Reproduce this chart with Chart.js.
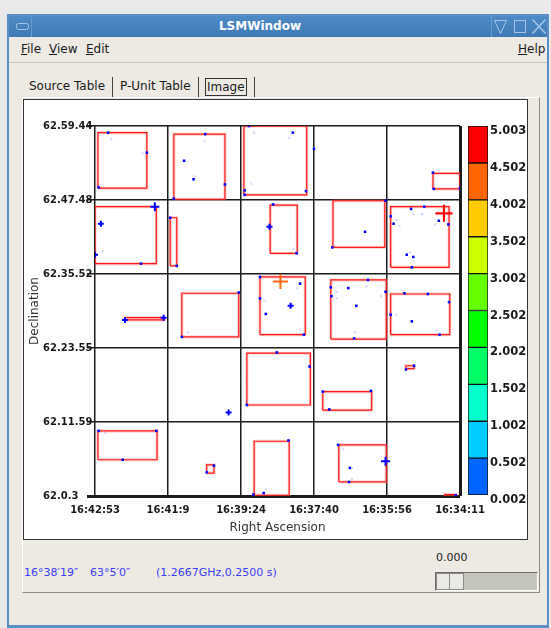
<!DOCTYPE html>
<html>
<head>
<meta charset="utf-8">
<title>LSMWindow</title>
<script src="https://cdn.jsdelivr.net/npm/chart.js@4.4.1/dist/chart.umd.min.js"></script>
<style>
  html, body { margin: 0; padding: 0; }
  body { width: 551px; height: 628px; background: #e9e9e9; position: relative; overflow: hidden;
         font-family: "DejaVu Sans", sans-serif; font-size: 12px; color: #1a1a1a; }
  .a { position: absolute; }
  #frame { left: 7px; top: 14px; width: 542px; height: 614px; background: #5a8fc6; }
  #body { left: 9px; top: 37px; width: 538px; height: 588px; background: #edeae4; }
  #titlebar { left: 9px; top: 16px; width: 538px; height: 21px; background: linear-gradient(#4e8ac5, #3f7ab5); }
  #title { left: 9px; top: 16px; width: 502px; line-height: 21px; text-align: center; color: #fff; font-weight: bold; font-size: 12px; }
  #menubar { left: 9px; top: 37px; width: 538px; height: 25px; border-bottom: 1px solid #c9c5bd; }
  .menu { top: 41px; line-height: 16px; font-size: 12px; }
  .tab { top: 78px; line-height: 17px; font-size: 12px; }
  .sep { width: 1px; background: #444; top: 77px; height: 20px; }
  #panel { left: 22px; top: 97px; width: 516px; height: 494px; border: 1px solid #8e8b85; border-top-color: #fff; border-left-color: #fff; }
  #plot { left: 23px; top: 99px; width: 503px; height: 439px; background: #fff; border: 1px solid #333; }
  .status { top: 566px; line-height: 14px; font-size: 11px; color: #3c3cff; }
  #trough { left: 435px; top: 572px; width: 101px; height: 17px; background: #c6c5bd; border: 1px solid #fff; border-top-color: #6b6b6b; border-left-color: #6b6b6b; }
  #thumb { left: 436px; top: 573px; width: 26px; height: 15px; background: #ebe9e3; border: 1px solid #8a8a8a; }
  #thumbline { left: 449px; top: 574px; width: 1px; height: 15px; background: #8a8a8a; }
</style>
</head>
<body>
<div class="a" id="frame"></div>
<div class="a" id="body"></div>
<div class="a" id="titlebar"></div>
<svg class="a" style="left:9px;top:16px" width="538" height="21">
  <rect x="7.5" y="7.5" width="12" height="6" rx="2" fill="none" stroke="#a4c6ea" stroke-width="1"/>
  <line x1="22.5" y1="0" x2="22.5" y2="21" stroke="#6a9bd0"/>
  <line x1="482.5" y1="0" x2="482.5" y2="21" stroke="#6a9bd0"/>
  <path d="M485.5 4.5 L497.5 4.5 L491.5 17.5 Z" fill="none" stroke="#a4c6ea"/>
  <rect x="505.5" y="4.5" width="11" height="12" fill="none" stroke="#a4c6ea"/>
  <path d="M523.5 3.5 L536.5 17.5 M536.5 3.5 L523.5 17.5" stroke="#a4c6ea" stroke-width="1.5"/>
</svg>
<div class="a" id="title">LSMWindow</div>
<div class="a" id="menubar"></div>
<div class="a menu" style="left:21px"><u>F</u>ile</div>
<div class="a menu" style="left:49px"><u>V</u>iew</div>
<div class="a menu" style="left:86px"><u>E</u>dit</div>
<div class="a menu" style="left:518px"><u>H</u>elp</div>

<div class="a" id="panel"></div>
<div class="a tab" style="left:29px">Source Table</div>
<div class="a sep" style="left:112px"></div>
<div class="a tab" style="left:120px">P-Unit Table</div>
<div class="a sep" style="left:198px"></div>
<div class="a tab" style="left:205px;top:78px;border:1px solid #333;line-height:16px;padding:0 1px">Image</div>
<div class="a sep" style="left:254px"></div>

<div class="a" id="plot"></div>
<canvas class="a" id="sky" width="503" height="439" style="left:24px;top:100px"></canvas>
<canvas class="a" id="bar" width="68" height="390" style="left:460px;top:116px"></canvas>

<div class="a status" style="left:24px">16°38′19″</div>
<div class="a status" style="left:90px">63°5′0″</div>
<div class="a status" style="left:156px">(1.2667GHz,0.2500 s)</div>
<div class="a" style="left:436px;top:551px;font-size:11px;line-height:14px;color:#222">0.000</div>
<div class="a" id="trough"></div>
<div class="a" id="thumb"></div>
<div class="a" id="thumbline"></div>

<script>
const raLabels = ['16:42:53', '16:41:9', '16:39:24', '16:37:40', '16:35:56', '16:34:11'];
const decLabels = ['62.0.3', '62.11.59', '62.23.55', '62.35.52', '62.47.48', '62.59.44'];

// P-unit boxes [x1, y1, x2, y2] in grid cells (x to the right, y up)
const boxes = [
    [0.04, 4.16, 0.71, 4.91], [1.08, 4.01, 1.78, 4.89], [2.04, 4.07, 2.90, 5.0], [4.63, 4.15, 5.0, 4.36],
    [0.0, 3.14, 0.84, 3.91], [1.03, 3.11, 1.12, 3.76], [2.40, 3.28, 2.77, 3.93], [3.26, 3.36, 3.97, 3.99],
    [4.05, 3.09, 4.85, 3.91],
    [0.41, 2.38, 0.95, 2.41], [1.19, 2.15, 1.97, 2.74], [2.26, 2.18, 2.88, 2.96], [3.23, 2.12, 3.99, 2.92],
    [4.05, 2.18, 4.86, 2.73],
    [2.08, 1.23, 2.95, 1.93], [3.12, 1.16, 3.79, 1.41], [4.26, 1.72, 4.37, 1.76],
    [0.04, 0.49, 0.85, 0.88], [1.53, 0.31, 1.63, 0.42], [2.18, 0.01, 2.66, 0.74], [3.34, 0.19, 3.99, 0.69],
    [4.79, 0.0, 4.95, 0.02]
];

const sources = [
    [0.18, 4.91], [0.71, 4.64], [0.05, 4.17], [1.51, 4.89], [1.22, 4.53], [1.35, 4.28], [1.78, 4.21],
    [1.08, 4.02], [2.11, 5.0], [2.71, 4.91], [2.05, 4.13], [2.05, 4.07], [2.89, 4.12], [3.0, 4.69],
    [4.63, 4.37], [4.64, 4.15], [5.0, 4.16],
    [0.63, 3.14], [1.03, 3.76], [1.12, 3.11], [2.44, 3.94], [2.76, 3.28], [3.98, 3.99], [3.70, 3.57],
    [3.25, 3.36], [4.33, 3.88], [4.51, 3.91], [4.05, 3.78], [4.09, 3.68], [4.71, 3.72], [4.84, 3.67],
    [4.27, 3.26], [4.36, 3.23], [4.34, 3.09],
    [1.97, 2.75], [1.19, 2.15], [2.26, 2.96], [2.81, 2.87], [2.26, 2.67], [2.34, 2.46], [2.86, 2.18],
    [3.74, 2.92], [3.47, 2.81], [3.23, 2.82], [3.24, 2.70], [3.98, 2.76], [3.58, 2.57], [3.55, 2.13],
    [4.24, 2.74], [4.56, 2.73], [4.85, 2.62], [4.05, 2.45], [4.34, 2.36], [4.72, 2.18],
    [2.49, 1.94], [2.94, 1.75], [2.08, 1.23], [3.12, 1.41], [3.78, 1.42], [3.21, 1.17], [4.26, 1.71],
    [4.37, 1.76],
    [0.05, 0.88], [0.84, 0.88], [0.38, 0.49], [1.63, 0.41], [1.53, 0.32], [2.65, 0.75], [2.17, 0.02],
    [2.31, 0.04], [3.33, 0.69], [3.49, 0.38], [3.48, 0.19], [4.94, 0.01]
];

const faintSources = [
    [0.22, 4.82], [0.65, 4.63], [2.18, 4.91], [2.66, 4.84], [2.14, 4.22], [1.50, 4.80], [1.36, 4.32],
    [0.10, 3.31], [4.36, 3.81], [4.48, 3.81], [4.13, 3.73], [4.17, 3.64], [4.66, 3.67], [4.32, 3.29],
    [4.36, 3.17], [2.72, 3.34], [3.31, 2.76], [3.31, 2.67], [3.72, 2.83], [3.92, 2.70], [2.32, 2.64],
    [2.77, 2.81], [2.81, 2.25], [4.13, 2.45], [4.68, 2.23], [3.56, 2.21], [1.27, 2.21], [0.14, 0.85],
    [3.52, 0.38], [3.52, 0.23], [2.34, 0.09], [3.40, 0.63]
];

const smallCrosses = [[0.08, 3.68], [0.0, 3.26], [2.39, 3.64], [2.68, 2.57], [0.41, 2.38], [0.94, 2.41], [1.83, 1.13]];
const bigCrosses = [[0.82, 3.91], [3.98, 0.47]];
const redCross = [[4.78, 3.82]];
const orangeCross = [[2.54, 2.90]];

const colorTicks = [0.002, 0.502, 1.002, 1.502, 2.002, 2.502, 3.002, 3.502, 4.002, 4.502, 5.003];
const colorBands = ['#0066ff', '#00ccff', '#00ffcc', '#00ff66', '#00ff00', '#66ff00', '#ccff00', '#ffcc00', '#ff6600', '#ff0000'];

function outline(list) {
    const pts = [];
    list.forEach(([x1, y1, x2, y2]) => {
        pts.push({x: x1, y: y1}, {x: x2, y: y1}, {x: x2, y: y2}, {x: x1, y: y2}, {x: x1, y: y1}, {x: x1, y: null});
    });
    return pts;
}
const xy = list => list.map(([x, y]) => ({x, y}));

const tickFont = {family: 'DejaVu Sans', size: 10, weight: 'bold'};
const titleFont = {family: 'DejaVu Sans', size: 12};

new Chart(document.getElementById('sky'), {
    type: 'scatter',
    data: {
        datasets: [
            {data: xy(redCross), pointStyle: 'cross', pointRadius: 8.5, borderColor: '#ff0000', borderWidth: 2.2},
            {data: xy(orangeCross), pointStyle: 'cross', pointRadius: 7.5, borderColor: '#ff6a10', borderWidth: 2},
            {data: xy(bigCrosses), pointStyle: 'cross', pointRadius: 4.5, borderColor: '#0000ff', borderWidth: 2},
            {data: xy(smallCrosses), pointStyle: 'cross', pointRadius: 3, borderColor: '#0000ff', borderWidth: 2},
            {data: xy(sources), pointStyle: 'rect', pointRadius: 1.8, backgroundColor: '#0000ff', borderWidth: 0},
            {data: xy(faintSources), pointStyle: 'rect', pointRadius: 1.5, backgroundColor: 'rgba(120,120,255,0.3)', borderWidth: 0},
            {data: outline(boxes), showLine: true, pointRadius: 0, borderColor: '#ff1a1a', borderWidth: 1.2},
            {data: outline(boxes), showLine: true, pointRadius: 0, borderColor: 'rgba(255,110,110,0.35)', borderWidth: 3}
        ]
    },
    options: {
        responsive: false,
        animation: false,
        events: [],
        layout: {padding: {top: 26, right: 67, left: 19, bottom: 0}},
        plugins: {legend: {display: false}, tooltip: {enabled: false}},
        scales: {
            x: {
                type: 'linear', min: 0, max: 5,
                afterBuildTicks: s => { s.ticks = raLabels.map((_, i) => ({value: i})); },
                afterFit: s => { s.height = 43; },
                grid: {color: '#1c1c1c', lineWidth: c => c.index === 5 ? 3 : 1.5, drawTicks: false},
                border: {display: false},
                ticks: {padding: 8, color: '#1a1a1a', font: tickFont, maxRotation: 0, autoSkip: false,
                        callback: (v, i) => raLabels[i]},
                title: {display: true, text: 'Right Ascension', color: '#333', font: titleFont, padding: {top: 0, bottom: 4}}
            },
            y: {
                type: 'linear', min: 0, max: 5,
                afterBuildTicks: s => { s.ticks = decLabels.map((_, i) => ({value: i})); },
                afterFit: s => { s.width = 52; },
                grid: {color: '#1c1c1c', lineWidth: c => c.index === 0 ? 3 : 1.5, tickLength: 8},
                border: {display: false},
                ticks: {crossAlign: 'far', color: '#1a1a1a', font: tickFont, autoSkip: false,
                        callback: (v, i) => decLabels[i]},
                title: {display: true, text: 'Declination', color: '#333', font: titleFont, padding: {top: -15, bottom: 0}}
            }
        }
    }
});

// colour scale at the right
new Chart(document.getElementById('bar'), {
    type: 'bar',
    data: {
        labels: [''],
        datasets: colorBands.map((c, i) => ({
            data: [[colorTicks[i], colorTicks[i + 1]]],
            backgroundColor: c, borderColor: '#111', borderWidth: 1, borderSkipped: false,
            barPercentage: 1, categoryPercentage: 1, grouped: false
        }))
    },
    options: {
        responsive: false,
        animation: false,
        events: [],
        layout: {padding: {left: 8, top: 10, bottom: 11, right: 0}},
        plugins: {legend: {display: false}, tooltip: {enabled: false}},
        scales: {
            x: {display: false},
            y: {
                position: 'right', min: 0.002, max: 5.003,
                afterBuildTicks: s => { s.ticks = colorTicks.map(v => ({value: v})); },
                afterFit: s => { s.width = 40; },
                grid: {display: false, drawTicks: false, tickLength: 0},
                border: {display: false},
                ticks: {padding: 2, labelOffset: 5, color: '#1a1a1a', autoSkip: false,
                        font: {family: 'DejaVu Sans', size: 11.5, weight: 'bold'},
                        callback: v => v.toFixed(3)}
            }
        }
    }
});
</script>
</body>
</html>
